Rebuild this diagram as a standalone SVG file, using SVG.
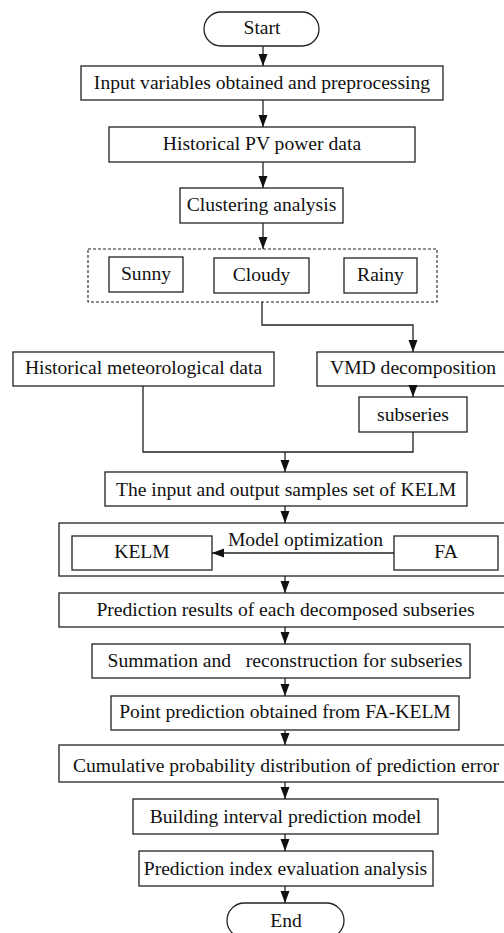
<svg xmlns="http://www.w3.org/2000/svg" width="504" height="933" viewBox="0 0 504 933">
  <defs>
    <marker id="arrow" markerUnits="userSpaceOnUse" markerWidth="13" markerHeight="10" refX="12" refY="4.5" orient="auto">
      <path d="M0,0 L12,4.5 L0,9 z" fill="#111"/>
    </marker>
    <style>
      .box { fill: #fff; stroke: #222; stroke-width: 1.3; }
      .frame { fill: none; stroke: #222; stroke-width: 1.3; }
      .dash { fill: none; stroke: #222; stroke-width: 1.1; stroke-dasharray: 3 2; }
      .lbl { font-family: "Liberation Serif", "Times New Roman", serif; font-size: 19.6px; fill: #111; text-anchor: middle; white-space: pre; }
      .edge { fill: none; stroke: #222; stroke-width: 1.3; }
      .arr { marker-end: url(#arrow); }
    </style>
  </defs>

  <rect width="504" height="933" fill="#fff"/>

  <g id="start">
    <rect class="box" x="204" y="12" width="115" height="34" rx="17" ry="17"/>
    <text class="lbl" x="262" y="34">Start</text>
  </g>

  <g id="input-variables">
    <rect class="box" x="81" y="66" width="362" height="34"/>
    <text class="lbl" x="262" y="89">Input variables obtained and preprocessing</text>
  </g>

  <g id="historical-pv">
    <rect class="box" x="109" y="127" width="306" height="35"/>
    <text class="lbl" x="262" y="150">Historical PV power data</text>
  </g>

  <g id="clustering">
    <rect class="box" x="180" y="188" width="163" height="35"/>
    <text class="lbl" x="261.5" y="211">Clustering analysis</text>
  </g>

  <g id="weather-types">
    <rect class="dash" x="88" y="249" width="349" height="53"/>
    <g id="sunny">
      <rect class="box" x="109" y="257" width="74" height="35"/>
      <text class="lbl" x="146" y="280">Sunny</text>
    </g>
    <g id="cloudy">
      <rect class="box" x="214" y="258" width="95" height="35"/>
      <text class="lbl" x="261.5" y="281">Cloudy</text>
    </g>
    <g id="rainy">
      <rect class="box" x="344" y="258" width="73" height="35"/>
      <text class="lbl" x="380.5" y="281">Rainy</text>
    </g>
  </g>

  <g id="historical-met">
    <rect class="box" x="13" y="352" width="261" height="34"/>
    <text class="lbl" x="143.5" y="374">Historical meteorological data</text>
  </g>

  <g id="vmd">
    <rect class="box" x="317" y="352" width="190" height="34"/>
    <text class="lbl" x="413" y="374">VMD decomposition</text>
  </g>

  <g id="subseries">
    <rect class="box" x="359" y="397" width="108" height="35"/>
    <text class="lbl" x="413" y="421">subseries</text>
  </g>

  <g id="samples">
    <rect class="box" x="105" y="472" width="362" height="34"/>
    <text class="lbl" x="286" y="496">The input and output samples set of KELM</text>
  </g>

  <g id="optimization">
    <rect class="frame" x="59" y="523" width="450" height="53"/>
    <g id="kelm">
      <rect class="box" x="72" y="536" width="140" height="34"/>
      <text class="lbl" x="142" y="558">KELM</text>
    </g>
    <g id="fa">
      <rect class="box" x="394" y="536" width="104" height="34"/>
      <text class="lbl" x="446" y="558">FA</text>
    </g>
    <text class="lbl" x="305.5" y="546">Model optimization</text>
  </g>

  <g id="prediction-results">
    <rect class="box" x="59" y="593" width="450" height="34"/>
    <text class="lbl" x="285.5" y="616">Prediction results of each decomposed subseries</text>
  </g>

  <g id="summation">
    <rect class="box" x="92" y="644" width="378" height="34"/>
    <text class="lbl" x="285" y="667">Summation and   reconstruction for subseries</text>
  </g>

  <g id="point-prediction">
    <rect class="box" x="111" y="696" width="348" height="34"/>
    <text class="lbl" x="285" y="718">Point prediction obtained from FA-KELM</text>
  </g>

  <g id="cumulative">
    <rect class="box" x="59" y="745" width="450" height="37"/>
    <text class="lbl" x="286" y="772">Cumulative probability distribution of prediction error</text>
  </g>

  <g id="interval-model">
    <rect class="box" x="133" y="799" width="305" height="35"/>
    <text class="lbl" x="285.5" y="823">Building interval prediction model</text>
  </g>

  <g id="evaluation">
    <rect class="box" x="139" y="851" width="294" height="35"/>
    <text class="lbl" x="285.5" y="875">Prediction index evaluation analysis</text>
  </g>

  <g id="end">
    <rect class="box" x="227" y="903" width="117" height="35" rx="17.5" ry="17.5"/>
    <text class="lbl" x="286" y="927">End</text>
  </g>

  <!-- connectors, drawn over the node fills -->
  <g id="connectors">
    <path class="edge arr" d="M263 46 V66"/>
    <path class="edge arr" d="M263 100 V127"/>
    <path class="edge arr" d="M263 162 V188"/>
    <path class="edge arr" d="M263 223 V249"/>
    <path class="edge arr" d="M262 302 V325 H413 V352"/>
    <path class="edge arr" d="M413 386 V397"/>
    <path class="edge" d="M143 386 V452 H413 V432"/>
    <path class="edge arr" d="M285 452 V472"/>
    <path class="edge arr" d="M285 506 V523"/>
    <path class="edge arr" d="M394 553 H212"/>
    <path class="edge arr" d="M285 576 V593"/>
    <path class="edge arr" d="M285 627 V644"/>
    <path class="edge arr" d="M285 678 V696"/>
    <path class="edge arr" d="M285 730 V745"/>
    <path class="edge arr" d="M285 782 V799"/>
    <path class="edge arr" d="M285 834 V851"/>
    <path class="edge arr" d="M285 886 V903"/>
  </g>
</svg>
